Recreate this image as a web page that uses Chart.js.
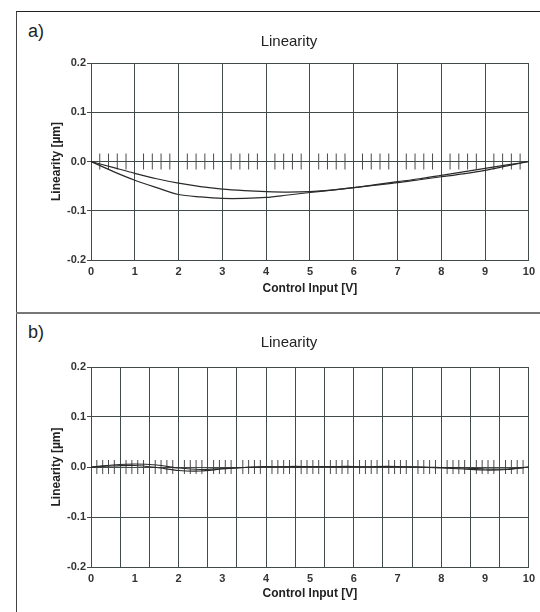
<!DOCTYPE html>
<html>
<head>
<meta charset="utf-8">
<script src="https://cdn.jsdelivr.net/npm/chart.js"></script>
<style>
  body { margin: 0; background: #fff; width: 540px; height: 612px; overflow: hidden; position: relative; font-family: "Liberation Sans", Arial, sans-serif; }
  .frame { position: absolute; left: 16px; top: 11px; width: 540px; height: 620px; border-top: 1px solid #222; border-left: 1px solid #444; }
  .divider { position: absolute; left: 16px; top: 312px; width: 530px; height: 2px; background: #777; }
  .lbl { position: absolute; left: 28px; font-size: 18px; line-height: 18px; color: #222; }
  .box { position: absolute; left: 49px; width: 491px; }
</style>
</head>
<body>
<div class="frame"></div>
<div class="divider"></div>
<div class="lbl" style="top:22px">a)</div>
<div class="lbl" style="top:323px">b)</div>
<div class="box" style="top:12px;height:300px"><canvas id="chartA"></canvas></div>
<div class="box" style="top:314px;height:298px"><canvas id="chartB"></canvas></div>
<script>
// control input [V]
const inputV = [0, 0.5, 1, 1.5, 2, 2.5, 3, 3.5, 4, 4.5, 5, 5.5, 6, 6.5, 7, 7.5, 8, 8.5, 9, 9.5, 10];

// panel a, linearity [um]
const upperA = [0, -0.012, -0.024, -0.035, -0.044, -0.051, -0.056, -0.059, -0.061, -0.062, -0.061, -0.058, -0.053, -0.047, -0.041, -0.035, -0.028, -0.021, -0.014, -0.007, 0];
const lowerA = [0, -0.02, -0.038, -0.053, -0.067, -0.072, -0.075, -0.075, -0.073, -0.068, -0.063, -0.058, -0.053, -0.048, -0.043, -0.037, -0.031, -0.025, -0.018, -0.009, 0];

// panel b, linearity [um]
const upperB = [0, 0.004, 0.006, 0.004, -0.002, -0.005, -0.003, -0.001, 0, 0.001, 0.001, 0.001, 0.001, 0, 0, 0, -0.001, -0.002, -0.004, -0.004, 0];
const lowerB = [0, 0.002, 0.003, -0.001, -0.007, -0.008, -0.004, -0.001, 0.001, 0, 0, 0, 0, 0.001, 0.001, 0, -0.002, -0.004, -0.006, -0.005, 0];

// measurement points (short marks on the zero line)
const marksA = [0.2, 0.4, 0.6, 0.8, 1.2, 1.4, 1.6, 1.8, 2.2, 2.4, 2.6, 2.8, 3.2, 3.4, 3.6, 3.8, 4.2, 4.4, 4.6, 4.8,
  5.2, 5.4, 5.6, 5.8, 6.2, 6.4, 6.6, 6.8, 7.2, 7.4, 7.6, 7.8, 8.2, 8.4, 8.6, 8.8, 9.2, 9.4, 9.6, 9.8];
const marksB = [0.133, 0.267, 0.4, 0.533, 0.8, 0.933, 1.067, 1.2, 1.467, 1.6, 1.733, 1.867, 2.133, 2.267, 2.4, 2.533,
  2.8, 2.933, 3.067, 3.2, 3.467, 3.6, 3.733, 3.867, 4.133, 4.267, 4.4, 4.533, 4.8, 4.933, 5.067, 5.2,
  5.467, 5.6, 5.733, 5.867, 6.133, 6.267, 6.4, 6.533, 6.8, 6.933, 7.067, 7.2, 7.467, 7.6, 7.733, 7.867,
  8.133, 8.267, 8.4, 8.533, 8.8, 8.933, 9.067, 9.2, 9.467, 9.6, 9.733, 9.867];

// tick labels / grid positions
const xTicks = [0, 1, 2, 3, 4, 5, 6, 7, 8, 9, 10];
const yTicks = [-0.2, -0.1, 0, 0.1, 0.2];
const gridB = [0, 0.667, 1.333, 2, 2.667, 3.333, 4, 4.667, 5.333, 6, 6.667, 7.333, 8, 8.667, 9.333, 10];

const gridCol = '#414b4b';
const lineCol = '#2a2a2a';

function pts(xs, ys) {
  return xs.map((x, i) => ({ x: x, y: ys[i] }));
}

function makeChart(id, upper, lower, marks, markLen, vGrid, t) {
  const scales = {
    x: {
      type: 'linear', min: 0, max: 10,
      afterBuildTicks: s => { s.ticks = xTicks.map(v => ({ value: v })); },
      afterFit: s => { s.height = 40; },
      grid: { display: !vGrid, color: gridCol, drawTicks: false },
      border: { color: gridCol },
      ticks: { color: '#333', padding: 5, font: { family: 'Liberation Sans', size: 11, weight: 'bold' } },
      title: { display: true, text: 'Control Input [V]', color: '#222', padding: { top: 0, bottom: t.xtPad },
        font: { family: 'Liberation Sans', size: 12, weight: 'bold' } }
    },
    y: {
      min: -0.2, max: 0.2,
      afterBuildTicks: s => { s.ticks = yTicks.map(v => ({ value: v })); },
      afterFit: s => { s.width = 42; },
      grid: { color: gridCol, tickLength: 4, tickColor: gridCol },
      border: { color: gridCol },
      ticks: { color: '#333', padding: 1, callback: v => v.toFixed(1),
        font: { family: 'Liberation Sans', size: 11, weight: 'bold' } },
      title: { display: true, text: 'Linearity [µm]', color: '#222', padding: { top: 0, bottom: 0 },
        font: { family: 'Liberation Sans', size: 12, weight: 'bold' } }
    }
  };
  if (vGrid) {
    // extra vertical grid for panel b
    scales.x2 = {
      type: 'linear', position: 'bottom', min: 0, max: 10,
      afterBuildTicks: s => { s.ticks = vGrid.map(v => ({ value: v })); },
      afterFit: s => { s.height = 0; },
      grid: { color: gridCol, drawTicks: false },
      border: { display: false },
      ticks: { display: false }
    };
  }
  return new Chart(document.getElementById(id), {
    type: 'scatter',
    data: {
      datasets: [
        { data: pts(inputV, upper), showLine: true, borderColor: lineCol, borderWidth: 1.2, pointRadius: 0, tension: 0.3 },
        { data: pts(inputV, lower), showLine: true, borderColor: lineCol, borderWidth: 1.2, pointRadius: 0, tension: 0.3 },
        { data: marks.map(x => ({ x: x, y: 0 })), pointStyle: 'line', rotation: 90, pointRadius: markLen,
          borderColor: '#4a4a4a', borderWidth: 1, backgroundColor: '#4a4a4a' }
      ]
    },
    options: {
      responsive: true,
      maintainAspectRatio: false,
      animation: false,
      events: [],
      layout: { padding: { left: 0, right: 11, top: 0, bottom: t.padBottom } },
      plugins: {
        legend: { display: false },
        tooltip: { enabled: false },
        title: { display: true, text: 'Linearity', color: '#222',
          padding: { top: t.top, bottom: t.bottom },
          font: { family: 'Liberation Sans', size: 15, weight: 'normal' } }
      },
      scales: scales
    }
  });
}

makeChart('chartA', upperA, lowerA, marksA, 8, null, { top: 21, bottom: 12, padBottom: 12, xtPad: 4 });
makeChart('chartB', upperB, lowerB, marksB, 7, gridB, { top: 20, bottom: 15, padBottom: 5, xtPad: 6 });
</script>
</body>
</html>
